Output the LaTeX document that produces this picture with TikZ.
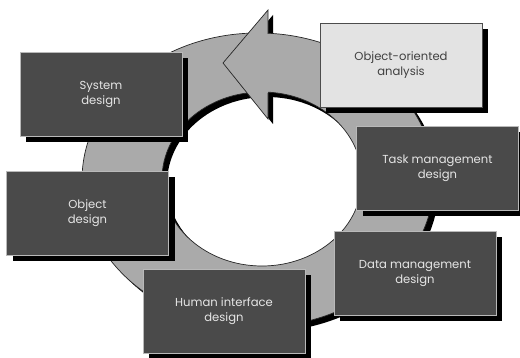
\documentclass[tikz,border=0pt]{standalone}
\usepackage{fontspec}
\setmainfont{Poppins}
\usetikzlibrary{shadows}
\definecolor{boxdark}{HTML}{4A4A4A}
\definecolor{boxlight}{HTML}{E3E3E3}
\definecolor{ringgray}{HTML}{AAAAAA}
\definecolor{txtlight}{HTML}{E6E6E6}
\begin{document}
\begin{tikzpicture}[x=1pt,y=-1pt,
  phase/.style={rectangle, minimum width=162pt, minimum height=84pt, inner sep=0pt,
    fill=boxdark, draw=gray!55, line width=0.8pt, text=txtlight, align=center,
    font=\fontsize{11.6}{15}\selectfont,
    execute at begin node={\rule{0pt}{21pt}},
    general shadow={fill=black, shadow xshift=6pt, shadow yshift=-6pt}},
  phaselight/.style={phase, fill=boxlight, draw=black!70, text=black!75}]
\useasboundingbox (0,0) rectangle (520,358);
% ring shadow and arrow shadow
\fill[black, even odd rule, shift={(5,5)}]
  (258,180) ellipse [x radius=176pt, y radius=147pt]
  (262,179) ellipse [x radius=100pt, y radius=87pt];
\fill[black, shift={(5,5)}] (223,63) -- (268,10) -- (268,119) -- cycle;
% ring
\fill[ringgray, draw=black!85, line width=0.7pt, even odd rule]
  (258,180) ellipse [x radius=176pt, y radius=147pt]
  (262,179) ellipse [x radius=100pt, y radius=87pt];
% arrowhead
\fill[ringgray] (223,63) -- (268,10) -- (268,119) -- cycle;
\draw[black!85, line width=0.7pt] (268,34) -- (268,10) -- (223,63) -- (268,119) -- (268,93);
% phases
\node[phase] (sys) at (101,94) {System\\design};
\node[phaselight] (ooa) at (401,65) {Object-oriented\\analysis};
\node[phase] (task) at (437.5,168.5) {Task management\\design};
\node[phase] (data) at (415,273.5) {Data management\\design};
\node[phase] (hid) at (224,311.5) {Human interface\\design};
\node[phase] (obj) at (87.5,213.5) {Object\\design};
\end{tikzpicture}
\end{document}
